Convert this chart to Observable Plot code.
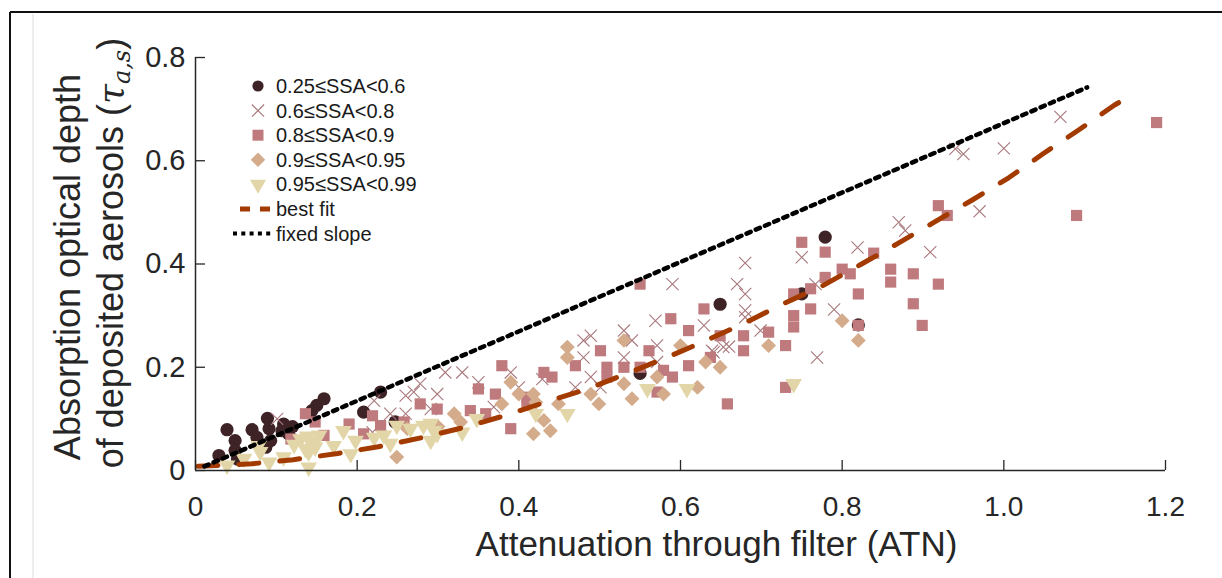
<!DOCTYPE html>
<html><head><meta charset="utf-8">
<script src="https://cdn.jsdelivr.net/npm/d3@7"></script>
<script src="https://cdn.jsdelivr.net/npm/@observablehq/plot@0.6"></script>
<style>
html,body{margin:0;padding:0;background:#fff;}
#chart{position:relative;width:1222px;height:578px;overflow:hidden;}
</style></head><body><div id="chart"></div>
<script>
// ---- data ----
const xTicks = [0, 0.2, 0.4, 0.6, 0.8, 1.0, 1.2];
const yTicks = [0, 0.2, 0.4, 0.6, 0.8];
const seriesLabels = ["0.25\u2264SSA<0.6", "0.6\u2264SSA<0.8", "0.8\u2264SSA<0.9", "0.9\u2264SSA<0.95", "0.95\u2264SSA<0.99"];
const lineLabels = ["best fit", "fixed slope"];
const xLabel = "Attenuation through filter (ATN)";
const yLabel1 = "Absorption optical depth";
const yLabel2 = "of deposited aerosols (";

const ssa025 = [[0.029,0.029],[0.039,0.079],[0.049,0.058],[0.049,0.039],[0.052,0.022],[0.070,0.079],[0.076,0.064],[0.089,0.101],[0.091,0.081],[0.093,0.058],[0.087,0.045],[0.109,0.090],[0.120,0.085],[0.115,0.071],[0.107,0.077],[0.144,0.116],[0.150,0.126],[0.159,0.139],[0.208,0.113],[0.229,0.152],[0.247,0.094],[0.550,0.188],[0.649,0.322],[0.750,0.342],[0.779,0.452],[0.820,0.282]];
const ssa06 = [[0.101,0.100],[0.219,0.074],[0.221,0.135],[0.241,0.110],[0.260,0.145],[0.270,0.152],[0.278,0.168],[0.260,0.110],[0.291,0.119],[0.299,0.148],[0.309,0.190],[0.330,0.190],[0.350,0.171],[0.369,0.123],[0.390,0.190],[0.400,0.161],[0.429,0.177],[0.470,0.161],[0.480,0.252],[0.489,0.261],[0.480,0.219],[0.489,0.181],[0.501,0.161],[0.530,0.271],[0.540,0.252],[0.530,0.219],[0.569,0.290],[0.571,0.242],[0.571,0.210],[0.590,0.361],[0.629,0.281],[0.641,0.229],[0.653,0.239],[0.639,0.232],[0.660,0.240],[0.670,0.361],[0.680,0.342],[0.680,0.402],[0.680,0.310],[0.680,0.297],[0.699,0.271],[0.750,0.413],[0.767,0.361],[0.769,0.219],[0.790,0.312],[0.819,0.432],[0.870,0.481],[0.878,0.465],[0.909,0.423],[0.940,0.623],[0.950,0.613],[0.970,0.502],[1.000,0.624],[1.070,0.685]];
const ssa08 = [[0.118,0.061],[0.136,0.110],[0.148,0.094],[0.159,0.068],[0.190,0.090],[0.208,0.071],[0.219,0.106],[0.229,0.087],[0.258,0.094],[0.278,0.129],[0.299,0.119],[0.340,0.116],[0.350,0.158],[0.359,0.110],[0.371,0.148],[0.379,0.203],[0.390,0.081],[0.410,0.142],[0.410,0.126],[0.431,0.190],[0.441,0.181],[0.470,0.203],[0.501,0.232],[0.509,0.200],[0.509,0.181],[0.530,0.200],[0.550,0.200],[0.550,0.361],[0.561,0.232],[0.571,0.152],[0.579,0.194],[0.590,0.181],[0.588,0.294],[0.610,0.271],[0.610,0.203],[0.629,0.313],[0.637,0.219],[0.649,0.261],[0.658,0.129],[0.678,0.261],[0.678,0.232],[0.709,0.268],[0.730,0.242],[0.730,0.161],[0.740,0.300],[0.740,0.278],[0.740,0.342],[0.750,0.442],[0.761,0.352],[0.761,0.313],[0.779,0.423],[0.779,0.374],[0.800,0.390],[0.810,0.381],[0.820,0.342],[0.820,0.281],[0.839,0.421],[0.860,0.390],[0.860,0.365],[0.888,0.381],[0.888,0.323],[0.899,0.281],[0.919,0.513],[0.930,0.494],[0.919,0.361],[1.090,0.494],[1.189,0.674]];
const ssa09 = [[0.249,0.026],[0.262,0.081],[0.300,0.085],[0.320,0.110],[0.328,0.094],[0.379,0.129],[0.390,0.171],[0.400,0.148],[0.418,0.148],[0.421,0.132],[0.431,0.097],[0.418,0.071],[0.439,0.077],[0.449,0.129],[0.460,0.239],[0.460,0.219],[0.489,0.148],[0.499,0.129],[0.530,0.252],[0.530,0.168],[0.540,0.139],[0.571,0.181],[0.579,0.148],[0.600,0.242],[0.621,0.161],[0.631,0.210],[0.649,0.200],[0.709,0.242],[0.800,0.290],[0.820,0.252]];
const ssa095 = [[0.039,0.010],[0.060,0.023],[0.080,0.036],[0.091,0.016],[0.078,0.048],[0.109,0.026],[0.122,0.050],[0.130,0.061],[0.136,0.042],[0.138,0.066],[0.146,0.058],[0.140,0.035],[0.140,0.006],[0.148,0.045],[0.153,0.068],[0.171,0.048],[0.183,0.077],[0.192,0.032],[0.198,0.058],[0.221,0.064],[0.233,0.068],[0.241,0.052],[0.249,0.087],[0.266,0.081],[0.282,0.087],[0.291,0.058],[0.295,0.077],[0.291,0.091],[0.299,0.071],[0.330,0.074],[0.348,0.100],[0.421,0.110],[0.460,0.110],[0.559,0.158],[0.608,0.158],[0.740,0.168]];

const bestFitX = [0.003,0.070,0.121,0.176,0.226,0.281,0.331,0.382,0.432,0.483,0.534,0.583,0.632,0.680,0.727,0.776,0.823,0.868,0.915,0.961,1.006,1.049,1.093,1.137,1.153];
const bestFitY = [0.008,0.013,0.021,0.033,0.046,0.064,0.083,0.106,0.132,0.157,0.188,0.219,0.252,0.286,0.323,0.358,0.399,0.439,0.482,0.524,0.567,0.614,0.660,0.708,0.722];
const fixedX = [0.011, 1.103];
const fixedY = [0.008, 0.742];

const colors = ["#3E2326", "#A8787C", "#BF7A7E", "#D4AC8C", "#E2D6A8"];
const fitColor = "#A33A00";

// ---- build ----
const pts = a => a.map(([x, y]) => ({x, y}));
const fit = bestFitX.map((x, i) => ({x, y: bestFitY[i]}));
const fixed = fixedX.map((x, i) => ({x, y: fixedY[i]}));
const fmt = d => d === 0 ? "0" : d.toFixed(1);

const triDown = {draw(ctx, size) {
  const y = Math.sqrt(size / (3 * Math.sqrt(3)));
  ctx.moveTo(0, 2 * y); ctx.lineTo(-Math.sqrt(3) * y, -y); ctx.lineTo(Math.sqrt(3) * y, -y); ctx.closePath();
}};

const W = 1222, H = 578, mL = 195, mR = 57, mT = 57, mB = 108;
const ink = "#262626";
const font = "'Liberation Sans', Arial, Helvetica, sans-serif";

const plot = Plot.plot({
  width: W, height: H, marginLeft: mL, marginRight: mR, marginTop: mT, marginBottom: mB,
  x: {domain: [0, 1.2]},
  y: {domain: [0, 0.8]},
  style: {fontFamily: font, background: "transparent", color: ink, overflow: "visible"},
  marks: [
    Plot.dot(pts(ssa025), {x: "x", y: "y", symbol: "circle", r: 6.6, fill: colors[0], stroke: "none"}),
    Plot.dot(pts(ssa06), {x: "x", y: "y", symbol: "times", r: 5.6, stroke: colors[1], fill: "none", strokeWidth: 1.1}),
    Plot.dot(pts(ssa08), {x: "x", y: "y", symbol: "square", r: 6.3, fill: colors[2], stroke: "none"}),
    Plot.dot(pts(ssa09), {x: "x", y: "y", symbol: "diamond2", r: 6.7, fill: colors[3], stroke: "none"}),
    Plot.dot(pts(ssa095), {x: "x", y: "y", symbol: triDown, r: 6.2, fill: colors[4], stroke: "none"}),
    Plot.line(fit, {x: "x", y: "y", stroke: fitColor, strokeWidth: 5, strokeDasharray: "20,21"}),
    Plot.line(fixed, {x: "x", y: "y", stroke: "#000", strokeWidth: 4.5, strokeDasharray: "4.5,5.5"}),
    Plot.ruleX([0], {stroke: ink, strokeWidth: 1.5}),
    Plot.ruleY([0], {stroke: ink, strokeWidth: 1.5}),
    Plot.tickX(xTicks, {x: d => d, insetTop: (H - mT - mB) - 10, stroke: ink, strokeWidth: 1.3}),
    Plot.tickY(yTicks, {y: d => d, insetRight: (W - mL - mR) - 10, stroke: ink, strokeWidth: 1.3}),
    Plot.axisX({ticks: xTicks, tickSize: 0, tickPadding: 26, tickFormat: fmt, fontSize: 28, label: null}),
    Plot.axisY({ticks: yTicks, tickSize: 0, tickPadding: 10, tickFormat: fmt, fontSize: 29, label: null}),
    Plot.text([xLabel], {text: d => d, frameAnchor: "bottom", dx: 36, dy: 85, lineAnchor: "bottom", fontSize: 35, fill: ink})
  ]
});
document.getElementById("chart").appendChild(plot);

// ---- decorations: figure border, y label, legend ----
const svg = d3.select(plot);
svg.append("line").attr("x1", 10).attr("x2", W).attr("y1", 12).attr("y2", 12).attr("stroke", "#111").attr("stroke-width", 2);
svg.append("line").attr("x1", 10).attr("x2", 10).attr("y1", 12).attr("y2", H).attr("stroke", "#111").attr("stroke-width", 2);
svg.append("line").attr("x1", 33).attr("x2", 33).attr("y1", 14).attr("y2", H).attr("stroke", "#ddd").attr("stroke-width", 1);

const yl = svg.append("g").attr("fill", ink).attr("font-family", font).attr("font-size", 36);
yl.append("text").attr("transform", "translate(80,267) rotate(-90)").attr("text-anchor", "middle").text(yLabel1);
const t2 = yl.append("text").attr("transform", "translate(123,253) rotate(-90)").attr("text-anchor", "middle");
t2.append("tspan").text(yLabel2);
t2.append("tspan").attr("font-family", "'DejaVu Serif', serif").attr("font-style", "italic").text("\u03C4");
t2.append("tspan").attr("font-family", "'DejaVu Serif', serif").attr("font-style", "italic").attr("font-size", 24).attr("dy", 7).text("a,s");
t2.append("tspan").attr("dy", -7).text(")");

const lg = svg.append("g").attr("font-family", font).attr("font-size", 20).attr("fill", "#1a1a1a").attr("text-anchor", "start");
const rows = [86, 110.6, 135.2, 159.8, 184.4, 209, 233.6];
const mx = 258, tx = 276;
const symSize = r => Math.PI * r * r;
const legendSyms = [
  {type: d3.symbolCircle, r: 5.6, fill: colors[0]},
  {type: d3.symbolTimes, r: 5.6, stroke: colors[1]},
  {type: d3.symbolSquare, r: 6.2, fill: colors[2]},
  {type: d3.symbolDiamond2, r: 6.5, fill: colors[3]},
  {type: triDown, r: 6.0, fill: colors[4]}
];
legendSyms.forEach((s, i) => {
  lg.append("path").attr("transform", `translate(${mx},${rows[i]})`)
    .attr("d", d3.symbol(s.type, symSize(s.r))())
    .attr("fill", s.fill || "none").attr("stroke", s.stroke || "none").attr("stroke-width", s.stroke ? 1.1 : 0);
  lg.append("text").attr("x", tx).attr("y", rows[i]).attr("dy", "0.35em").attr("text-anchor", "start").text(seriesLabels[i]);
});
lg.append("line").attr("x1", 240).attr("x2", 270).attr("y1", rows[5]).attr("y2", rows[5])
  .attr("stroke", fitColor).attr("stroke-width", 5).attr("stroke-dasharray", "10,10");
lg.append("text").attr("x", tx).attr("y", rows[5]).attr("dy", "0.35em").attr("text-anchor", "start").text(lineLabels[0]);
lg.append("line").attr("x1", 233).attr("x2", 271).attr("y1", rows[6]).attr("y2", rows[6])
  .attr("stroke", "#000").attr("stroke-width", 4).attr("stroke-dasharray", "4,4.3");
lg.append("text").attr("x", tx).attr("y", rows[6]).attr("dy", "0.35em").attr("text-anchor", "start").text(lineLabels[1]);
</script></body></html>
